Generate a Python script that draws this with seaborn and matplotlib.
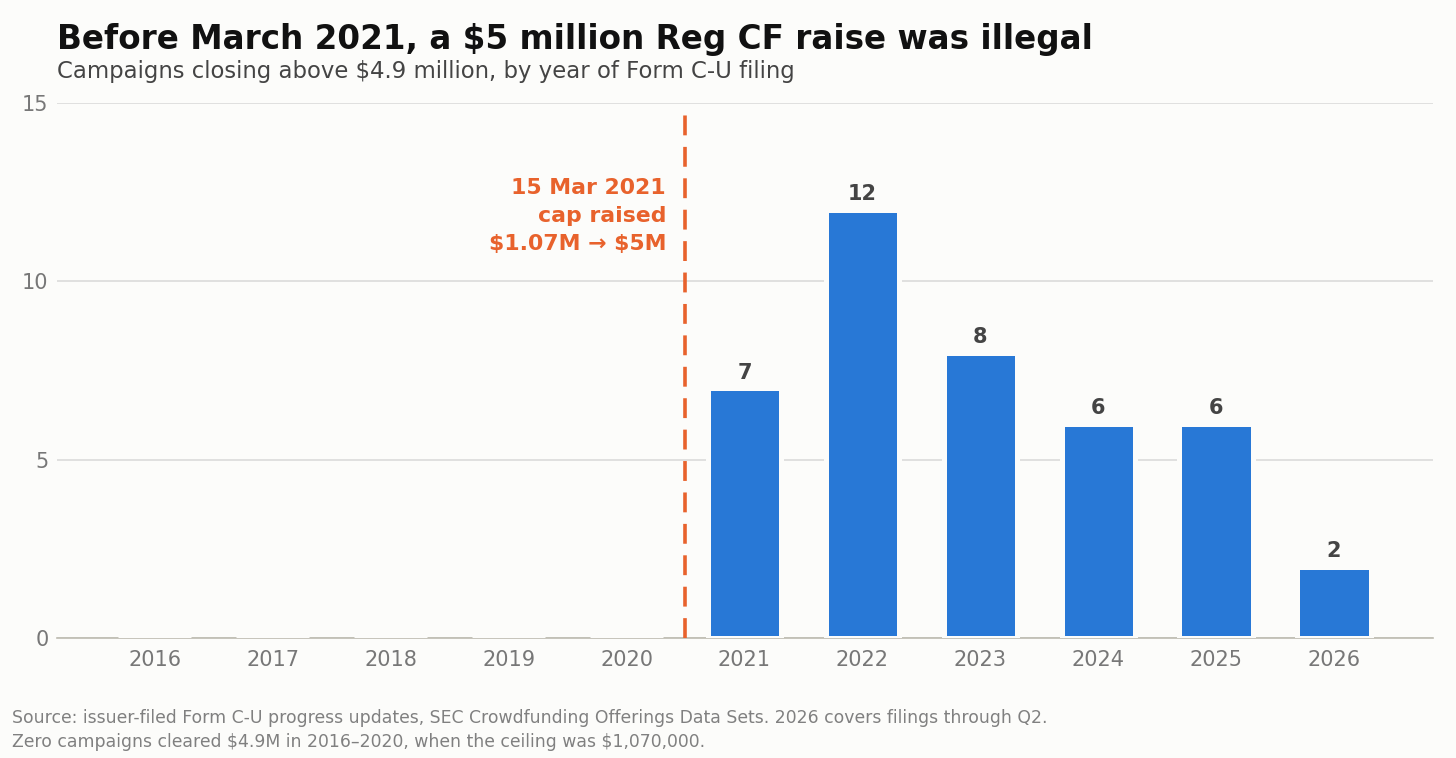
import matplotlib
matplotlib.use("Agg")
import matplotlib.pyplot as plt
import numpy as np
import pandas as pd
import seaborn as sns

# data
years = ["2016", "2017", "2018", "2019", "2020", "2021", "2022", "2023", "2024", "2025", "2026"]
counts = [0, 0, 0, 0, 0, 7, 12, 8, 6, 6, 2]
y_ticks = [0, 5, 10, 15]
cap_change_pos = 4.5  # between 2020 and 2021 on the category axis

title = "Before March 2021, a $5 million Reg CF raise was illegal"
subtitle = "Campaigns closing above $4.9 million, by year of Form C-U filing"
note_text = "15 Mar 2021\ncap raised\n$1.07M \u2192 $5M"
footer = ("Source: issuer-filed Form C-U progress updates, SEC Crowdfunding Offerings Data Sets. "
          "2026 covers filings through Q2.\n"
          "Zero campaigns cleared $4.9M in 2016\u20132020, when the ceiling was $1,070,000.")

BG = "#fcfcfa"
BLUE = "#2878d6"
ORANGE = "#e8622c"

sns.set_theme(style="white")
plt.rcParams["font.family"] = ["DejaVu Sans"]
plt.rcParams["text.parse_math"] = False  # dollar signs are literal

df = pd.DataFrame({"year": years, "count": counts})

fig = plt.figure(figsize=(14.56, 7.58), dpi=100, facecolor=BG)
ax = fig.add_axes([57 / 1456, 1 - 638 / 758, (1433 - 57) / 1456, (638 - 103) / 758])
ax.set_facecolor(BG)

sns.barplot(data=df, x="year", y="count", color=BLUE, saturation=1, width=0.62,
            edgecolor=BG, linewidth=3.6, ax=ax, zorder=3)

# value labels, skip empty years
for cont in ax.containers:
    labels = [str(int(v)) if v > 0 else "" for v in cont.datavalues]
    ax.bar_label(cont, labels=labels, padding=4, fontsize=15, fontweight="bold",
                 color="#444444")

ax.set_xlim(-0.83, 10.84)
ax.set_ylim(0, 15)
ax.set_yticks(y_ticks)
ax.yaxis.grid(True, color="#dddddd", linewidth=1.3, zorder=0)
ax.set_axisbelow(True)
ax.set_xlabel("")
ax.set_ylabel("")
ax.tick_params(axis="both", length=0, labelsize=15, labelcolor="#777777")
ax.tick_params(axis="x", pad=9)
ax.tick_params(axis="y", pad=6)
for s in ["left", "right", "top"]:
    ax.spines[s].set_visible(False)
ax.spines["bottom"].set_color("#bdbbb0")
ax.spines["bottom"].set_linewidth(1.2)
ax.spines["bottom"].set_zorder(2)

# cap change marker
ax.vlines(cap_change_pos, 0, 14.75, colors=ORANGE, linewidth=2.6,
          linestyles=(0, (5.5, 3.2)), zorder=4)
ax.annotate(note_text, xy=(cap_change_pos, 11.83), xytext=(-14, 0),
            textcoords="offset points", ha="right", va="center",
            fontsize=15.8, fontweight="bold", color=ORANGE, linespacing=1.5)

fig.text(57 / 1456, 1 - 49 / 758, title, fontsize=23.5, fontweight="bold",
         color="#111111", va="baseline", ha="left")
fig.text(57 / 1456, 1 - 78 / 758, subtitle, fontsize=16.4, color="#444444",
         va="baseline", ha="left")
fig.text(12 / 1456, 1 - 747 / 758, footer, fontsize=12.4, color="#808080",
         va="baseline", ha="left", linespacing=1.4)

fig.savefig("out.png", dpi=100, facecolor=BG)
